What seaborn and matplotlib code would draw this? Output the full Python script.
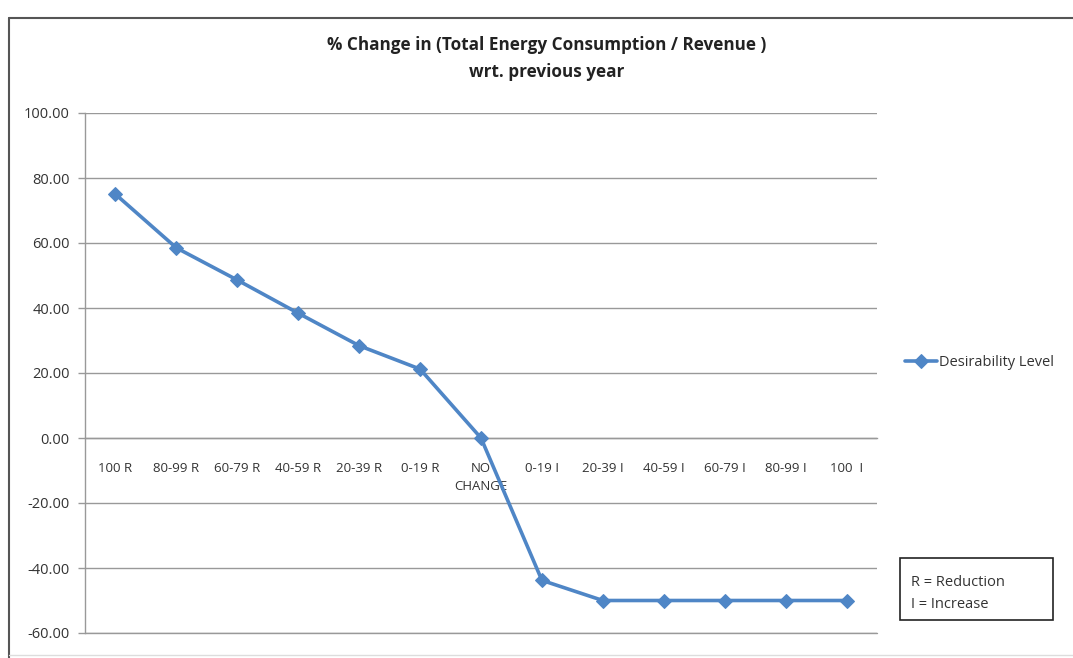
import numpy as np
import pandas as pd
import matplotlib
matplotlib.use("Agg")
import matplotlib.pyplot as plt
import seaborn as sns
from matplotlib.lines import Line2D
from matplotlib.patches import Rectangle

categories = ["100 R", "80-99 R", "60-79 R", "40-59 R", "20-39 R", "0-19 R", "NO\nCHANGE",
              "0-19 I", "20-39 I", "40-59 I", "60-79 I", "80-99 I", "100  I"]
values = [75.0, 58.5, 48.6, 38.4, 28.4, 21.2, 0.0, -43.8, -50.0, -50.0, -50.0, -50.0, -50.0]
yticks = [100, 80, 60, 40, 20, 0, -20, -40, -60]
series_name = "Desirability Level"

sns.set_theme(style="white")
plt.rcParams['font.family'] = ['Open Sans', 'DejaVu Sans']

W, H = 1073, 658
fig = plt.figure(figsize=(W / 100, H / 100), dpi=100)
ax = fig.add_axes([85 / W, 1 - 633 / H, (877 - 85) / W, (633 - 113) / H])

df = pd.DataFrame({"pos": np.arange(len(categories)), "value": values})
color = "#4F86C6"
sns.lineplot(data=df, x="pos", y="value", ax=ax, color=color, linewidth=2.6,
             marker="D", markersize=7, markeredgecolor=color, label=series_name, zorder=5)

ax.set_xlim(-0.5, len(categories) - 0.5)
ax.set_ylim(-60, 100)
ax.set_yticks(yticks)
ax.set_yticklabels([f"{v:.2f}" for v in yticks], fontsize=10.5, color="#333333")
ax.yaxis.grid(True, color="#999999", linewidth=1)
ax.xaxis.grid(False)
ax.set_xlabel("")
ax.set_ylabel("")
ax.axhline(-60, color="#999999", linewidth=1, clip_on=False, zorder=1)

for s in ["top", "right"]:
    ax.spines[s].set_visible(False)
ax.spines["left"].set_color("#999999")
ax.spines["left"].set_linewidth(1)
ax.spines["bottom"].set_position(("data", 0))
ax.spines["bottom"].set_color("#999999")
ax.spines["bottom"].set_linewidth(1)

ax.set_xticks(np.arange(len(categories)))
ax.set_xticklabels(categories, fontsize=9.5, color="#333333", va="top", linespacing=1.5)
ax.set_xticks(np.arange(len(categories) + 1) - 0.5, minor=True)
ax.tick_params(axis="x", which="major", length=0, pad=17)
ax.tick_params(axis="x", which="minor", length=4, color="#999999", width=1, direction="out")
ax.tick_params(axis="y", which="major", length=5, color="#999999", width=1, direction="out", pad=6, left=True)

leg = ax.legend(loc="center left", bbox_to_anchor=(1.019, 0.52), frameon=False,
                fontsize=10.5, handlelength=2.2, handletextpad=0.1)
for t in leg.get_texts():
    t.set_color("#333333")

fig.text(547 / W, 1 - 45 / H, "% Change in (Total Energy Consumption / Revenue )",
         ha="center", va="center", fontsize=12.3, fontweight="bold", color="#222222")
fig.text(547 / W, 1 - 72 / H, "wrt. previous year",
         ha="center", va="center", fontsize=12.3, fontweight="bold", color="#222222")

fig.patches.append(Rectangle((900 / W, 1 - 620 / H), 153 / W, 62 / H, transform=fig.transFigure,
                             fill=False, edgecolor="#222222", linewidth=1.2))
fig.text(911 / W, 1 - 582 / H, "R = Reduction", ha="left", va="center", fontsize=10.5, color="#333333")
fig.text(911 / W, 1 - 605 / H, "I = Increase", ha="left", va="center", fontsize=10.5, color="#333333")

# outer chart frame
fig.lines.append(Line2D([9 / W, 9 / W], [0, 1 - 18 / H], transform=fig.transFigure,
                        color="#555555", linewidth=1.5))
fig.lines.append(Line2D([9 / W, 1], [1 - 18 / H, 1 - 18 / H], transform=fig.transFigure,
                        color="#555555", linewidth=1.5))
fig.lines.append(Line2D([9 / W, 1], [1 - 655 / H, 1 - 655 / H], transform=fig.transFigure,
                        color="#DDDDDD", linewidth=1))

fig.savefig("out.png", dpi=100)
